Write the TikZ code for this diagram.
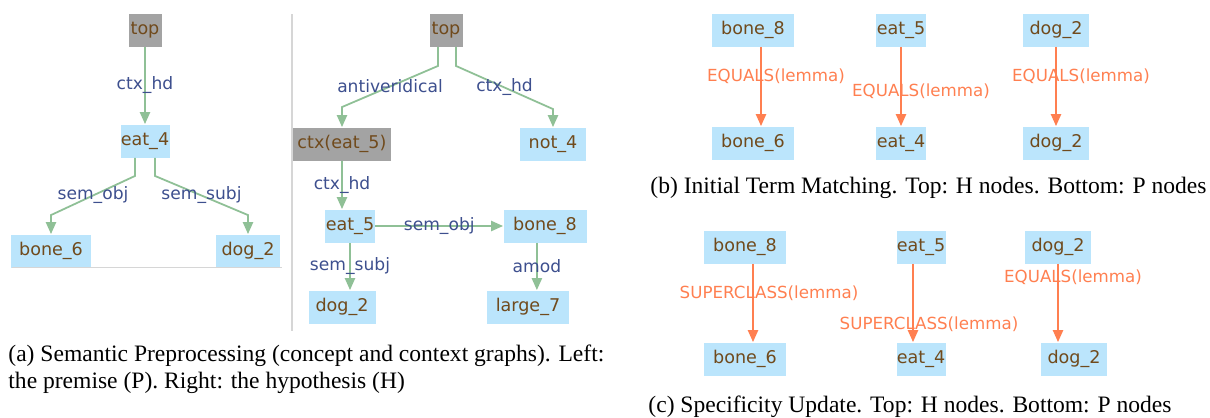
\documentclass[tikz,border=0pt]{standalone}
\usepackage{fontspec}
\setmainfont{Liberation Serif}
\newfontfamily\graphfont{DejaVu Sans}
\usepackage{tikz}
\usetikzlibrary{arrows.meta,positioning}
\definecolor{NodeBlue}{HTML}{BBE5FC}
\definecolor{NodeGray}{HTML}{A3A3A3}
\definecolor{NodeText}{HTML}{704A1C}
\definecolor{EdgeGreen}{HTML}{8FC096}
\definecolor{LabelBlue}{HTML}{3D4F8E}
\definecolor{MatchOrange}{HTML}{FF7F50}
\definecolor{RuleGray}{HTML}{D6D6D6}

\tikzset{
  cbox/.style={fill=NodeBlue, text=NodeText, inner sep=0pt,
    minimum height=14.85pt, minimum width=#1*0.45pt,
    font=\graphfont\fontsize{7.9}{9}\selectfont},
  cbox/.default=66,
  gbox/.style={cbox=#1, fill=NodeGray},
  gbox/.default=33,
  glink/.style={draw=EdgeGreen, line width=0.8pt,
    -{Triangle[length=5.4pt,width=4.6pt]}},
  mlink/.style={draw=MatchOrange, line width=0.8pt,
    -{Triangle[length=5.4pt,width=4.6pt]}},
  elabel/.style={text=LabelBlue, inner sep=0pt,
    font=\graphfont\fontsize{7.7}{9}\selectfont},
  mlabel/.style={text=MatchOrange, inner sep=0pt,
    font=\graphfont\fontsize{7.5}{9}\selectfont},
  caption/.style={anchor=west, align=left, inner sep=0pt,
    font=\fontsize{10.6}{12.15}\selectfont}
}

\begin{document}
\begin{tikzpicture}[x=0.45pt, y=-0.45pt]
  \useasboundingbox (0,0) rectangle (1210,417);

  % (a) premise graph
  \node[gbox] (ltop) at (145,30) {top};
  \node[cbox=49] (eat4) at (145,141) {eat\_4};
  \node[cbox=80] (bone6) at (51,251) {bone\_6};
  \node[cbox=64] (dog2) at (248,251) {dog\_2};

  \draw[glink] (ltop) -- node[elabel] {ctx\_hd} (eat4);
  \draw[glink] ([xshift=-4.5pt]eat4.south) -- ++(0,18)
    -- node[elabel] {sem\_obj} ([yshift=8.55pt]bone6.north) -- (bone6.north);
  \draw[glink] ([xshift=4.5pt]eat4.south) -- ++(0,18)
    -- node[elabel] {sem\_subj} ([yshift=8.55pt]dog2.north) -- (dog2.north);

  \draw[RuleGray, line width=0.4pt] (12,267.5) -- (282,267.5);
  \draw[RuleGray, line width=0.5pt] (292,14) -- (292,331);

  % (a) hypothesis graph
  \node[gbox] (rtop) at (446,30) {top};
  \node[gbox=98] (ctx) at (342,144) {ctx(eat\_5)};
  \node[cbox] (not4) at (553,144) {not\_4};
  \node[cbox=50] (eat5) at (350,226) {eat\_5};
  \node[cbox=83] (bone8) at (545,226) {bone\_8};
  \node[cbox=67] (hdog2) at (342,307) {dog\_2};
  \node[cbox=82] (large7) at (528,307) {large\_7};

  \draw[glink] ([xshift=-3.6pt]rtop.south) -- ++(0,19)
    -- node[elabel] {antiveridical} ([yshift=9pt]ctx.north) -- (ctx.north);
  \draw[glink] ([xshift=4.5pt]rtop.south) -- ++(0,19)
    -- node[elabel] {ctx\_hd} ([yshift=8.1pt]not4.north) -- (not4.north);
  \draw[glink] (ctx.south) -- node[elabel] {ctx\_hd} ([xshift=-3.6pt]eat5.north);
  \draw[glink] (eat5.east) -- node[elabel] {sem\_obj} (bone8.west);
  \draw[glink] (eat5.south) -- node[elabel] {sem\_subj} (hdog2.north -| eat5.south);
  \draw[glink] ([xshift=4pt]large7.north |- bone8.south)
    -- node[elabel] {amod} ([xshift=4pt]large7.north);

  \node[caption] (capa) at (8,369.5)
    {(a) Semantic Preprocessing (concept and context graphs). Left:\\
     the premise (P). Right: the hypothesis (H)};

  % (b) initial term matching
  \node[cbox=82] (bhbone) at (753,30) {bone\_8};
  \node[cbox=50] (bheat) at (901,30) {eat\_5};
  \node[cbox] (bhdog) at (1056,30) {dog\_2};
  \node[cbox=82] (bpbone) at (753,143) {bone\_6};
  \node[cbox=50] (bpeat) at (901,143) {eat\_4};
  \node[cbox] (bpdog) at (1056,143) {dog\_2};

  \draw[mlink] ([xshift=3.6pt]bhbone.south) -- node[mlabel, pos=0.375, xshift=6.75pt] {EQUALS(lemma)} ([xshift=3.6pt]bpbone.north);
  \draw[mlink] (bheat) -- node[mlabel, pos=0.56, xshift=9pt] {EQUALS(lemma)} (bpeat);
  \draw[mlink] (bhdog) -- node[mlabel, pos=0.375, xshift=11.25pt] {EQUALS(lemma)} (bpdog);

  \node[caption] (capb) at (650,188)
    {(b) Initial Term Matching. Top: H nodes. Bottom: P nodes};

  % (c) specificity update
  \node[cbox=82] (chbone) at (745,247) {bone\_8};
  \node[cbox=49] (cheat) at (921,247) {eat\_5};
  \node[cbox] (chdog) at (1058,247) {dog\_2};
  \node[cbox=82] (cpbone) at (745,359) {bone\_6};
  \node[cbox=49] (cpeat) at (921,359) {eat\_4};
  \node[cbox] (cpdog) at (1074,359) {dog\_2};

  \draw[mlink] ([xshift=3.6pt]chbone.south) -- node[mlabel, pos=0.38, xshift=7.2pt] {SUPERCLASS(lemma)} ([xshift=3.6pt]cpbone.north);
  \draw[mlink] ([xshift=-3.6pt]cheat.south) -- node[mlabel, pos=0.77, xshift=7.2pt] {SUPERCLASS(lemma)} ([xshift=-3.6pt]cpeat.north);
  \draw[mlink] (chdog.south) -- node[mlabel, pos=0.165, xshift=6.75pt] {EQUALS(lemma)} (cpdog.north -| chdog.south);

  \node[caption] (capc) at (648,407)
    {(c) Specificity Update. Top: H nodes. Bottom: P nodes};
\end{tikzpicture}
\end{document}
